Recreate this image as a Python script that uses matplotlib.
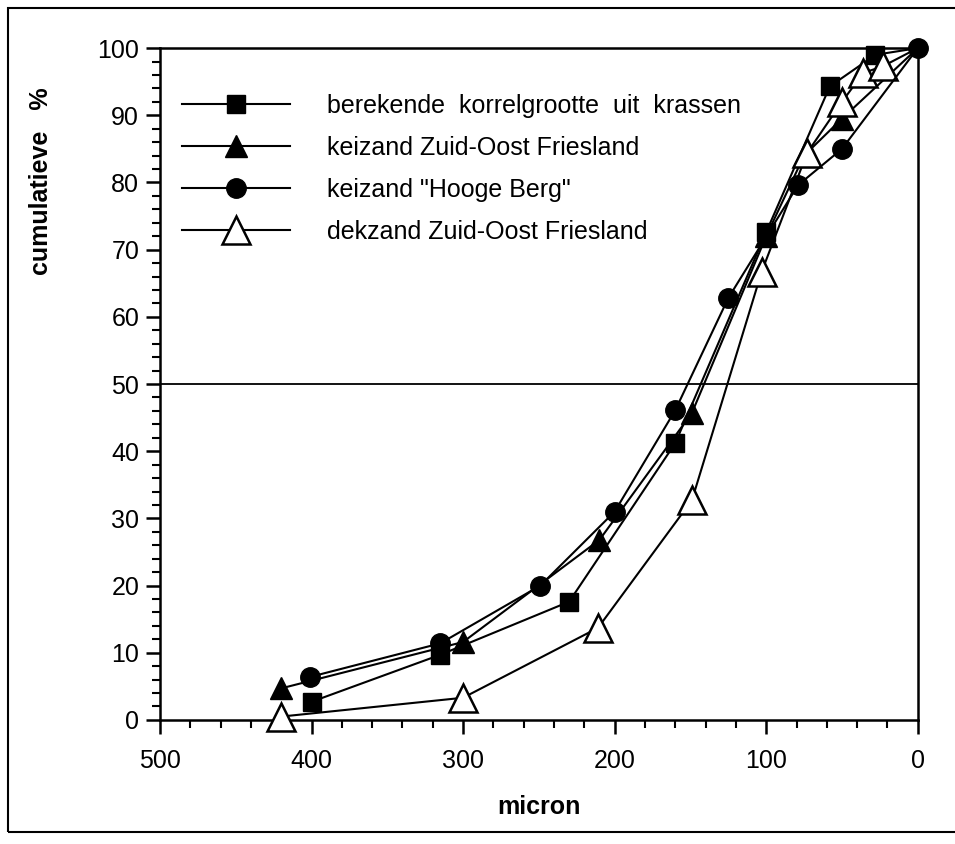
import matplotlib
matplotlib.use("Agg")
import matplotlib.pyplot as plt
from matplotlib.patches import Rectangle
from matplotlib.ticker import MultipleLocator

plt.rcParams["font.family"] = ["Liberation Sans", "DejaVu Sans"]

labels = [
    "berekende  korrelgrootte  uit  krassen",
    "keizand Zuid-Oost Friesland",
    "keizand \"Hooge Berg\"",
    "dekzand Zuid-Oost Friesland",
]

krassen_x = [400, 315, 230, 160, 100, 58, 28, 0]
krassen_y = [2.7, 9.7, 17.6, 41.2, 72.6, 94.3, 99.0, 100]

keizand_x = [420, 300, 210, 149, 100, 75, 50, 0]
keizand_y = [4.7, 11.6, 26.8, 45.7, 72.0, 84.0, 89.5, 100]

hooge_x = [401, 315, 249, 200, 160, 125, 79, 50, 0]
hooge_y = [6.4, 11.4, 20.0, 31.0, 46.1, 62.8, 79.6, 85.0, 100]

dekzand_x = [420, 300, 211, 149, 103, 73, 50, 36, 23, 0]
dekzand_y = [0.5, 3.3, 13.7, 32.7, 66.7, 84.4, 92.0, 96.3, 97.3, 100]

fig = plt.figure(figsize=(9.55, 8.44), dpi=100)
ax = fig.add_axes([0.1675, 0.147, 0.7935, 0.796])

lw = 1.5
# end point (0, 100) shared; only the circle shows a marker there
ax.plot(krassen_x, krassen_y, color="black", lw=lw, marker="s", ms=13,
        mfc="black", mec="black", label=labels[0], clip_on=False, zorder=3,
        markevery=slice(0, len(krassen_x) - 1))
ax.plot(keizand_x, keizand_y, color="black", lw=lw, marker="^", ms=16,
        mfc="black", mec="black", label=labels[1], clip_on=False, zorder=3,
        markevery=slice(0, len(keizand_x) - 1))
ax.plot(hooge_x, hooge_y, color="black", lw=lw, marker="o", ms=14,
        mfc="black", mec="black", label=labels[2], clip_on=False, zorder=4)
ax.plot(dekzand_x, dekzand_y, color="black", lw=lw, marker="^", ms=20,
        mfc="white", mec="black", mew=1.8, label=labels[3], clip_on=False,
        zorder=3, markevery=slice(0, len(dekzand_x) - 1))

ax.axhline(50, color="black", lw=1.3, zorder=1)

ax.set_xlim(500, 0)
ax.set_ylim(0, 100)
ax.xaxis.set_major_locator(MultipleLocator(100))
ax.xaxis.set_minor_locator(MultipleLocator(20))
ax.yaxis.set_major_locator(MultipleLocator(10))
ax.yaxis.set_minor_locator(MultipleLocator(2))

ax.tick_params(axis="both", which="major", direction="out", length=10,
               width=1.8, labelsize=18, pad=5)
ax.tick_params(axis="both", which="minor", direction="out", length=6,
               width=1.5)
ax.tick_params(axis="x", which="major", pad=11)
for s in ax.spines.values():
    s.set_linewidth(1.8)

ax.set_xlabel("micron", fontsize=18, fontweight="bold", labelpad=16)
fig.text(0.043, 0.785, "cumulatieve   %", rotation=90, fontsize=18,
         fontweight="bold", ha="center", va="center")

leg = ax.legend(loc="upper left", bbox_to_anchor=(0.0, 0.965), frameon=False,
                fontsize=18, handlelength=4.3, handletextpad=1.5,
                labelspacing=0.72, numpoints=1)

fig.patches.append(Rectangle((8 / 955, 12 / 844), 1.0, 824 / 844,
                             transform=fig.transFigure, fill=False,
                             edgecolor="black", lw=1.5))

fig.savefig("out.png", dpi=100)
